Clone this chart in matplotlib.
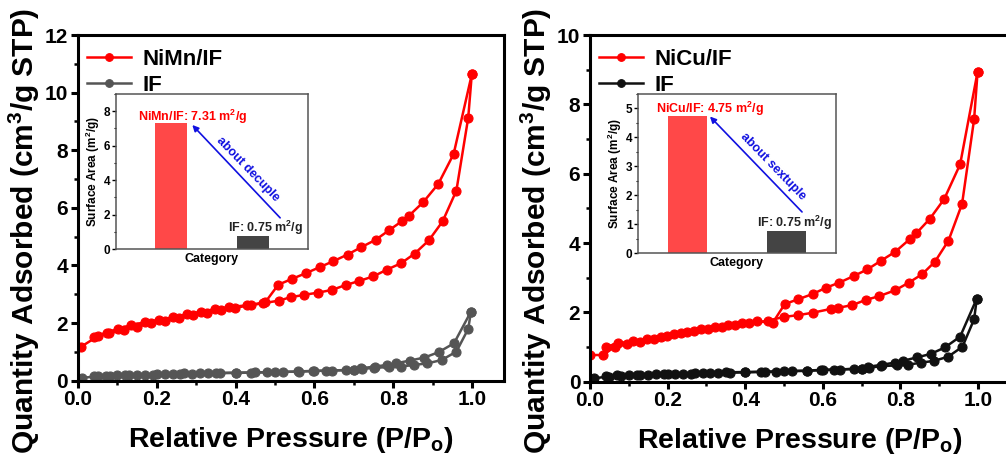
import numpy as np
import matplotlib
matplotlib.use("Agg")
import matplotlib.pyplot as plt
from matplotlib.ticker import MultipleLocator

plt.rcParams['font.family'] = ['Liberation Sans', 'DejaVu Sans']
plt.rcParams['font.weight'] = 'bold'
plt.rcParams['mathtext.fontset'] = 'custom'
plt.rcParams['mathtext.rm'] = 'Liberation Sans:bold'
plt.rcParams['mathtext.it'] = 'Liberation Sans:bold'
plt.rcParams['mathtext.bf'] = 'Liberation Sans:bold'

# ---- isotherm data ----
nimn_ads_x = [0.008, 0.051, 0.079, 0.117, 0.151, 0.186, 0.22, 0.256, 0.292, 0.327, 0.362, 0.398,
              0.438, 0.47, 0.51, 0.54, 0.574, 0.61, 0.644, 0.679, 0.713, 0.749, 0.783, 0.82,
              0.854, 0.89, 0.925, 0.96, 0.99, 0.999]
nimn_ads_y = [1.18, 1.55, 1.65, 1.76, 1.88, 2.00, 2.08, 2.16, 2.27, 2.34, 2.44, 2.53,
              2.62, 2.69, 2.78, 2.90, 2.98, 3.06, 3.15, 3.32, 3.46, 3.62, 3.85, 4.08,
              4.41, 4.87, 5.53, 6.60, 9.13, 10.63]
nimn_des_x = [0.999, 0.953, 0.914, 0.876, 0.84, 0.823, 0.789, 0.755, 0.718, 0.684, 0.648, 0.613,
              0.578, 0.542, 0.508, 0.475, 0.43, 0.382, 0.347, 0.311, 0.277, 0.241, 0.206, 0.170,
              0.135, 0.102, 0.073, 0.041]
nimn_des_y = [10.63, 7.87, 6.83, 6.20, 5.73, 5.55, 5.22, 4.89, 4.63, 4.38, 4.15, 3.94,
              3.73, 3.53, 3.33, 2.72, 2.62, 2.55, 2.48, 2.39, 2.31, 2.20, 2.11, 2.03,
              1.93, 1.80, 1.67, 1.53]

nicu_ads_x = [0.001, 0.034, 0.064, 0.095, 0.13, 0.164, 0.199, 0.234, 0.269, 0.305, 0.339, 0.373,
              0.41, 0.459, 0.50, 0.537, 0.574, 0.621, 0.639, 0.676, 0.711, 0.746, 0.787, 0.822,
              0.856, 0.889, 0.924, 0.959, 0.99, 0.999]
nicu_ads_y = [0.77, 0.77, 1.01, 1.08, 1.15, 1.24, 1.32, 1.41, 1.47, 1.51, 1.59, 1.64,
              1.68, 1.76, 1.87, 1.92, 1.99, 2.10, 2.13, 2.21, 2.36, 2.47, 2.64, 2.86,
              3.10, 3.46, 4.07, 5.13, 7.57, 8.94]
nicu_des_x = [0.999, 0.954, 0.913, 0.876, 0.841, 0.824, 0.787, 0.75, 0.715, 0.68, 0.643, 0.608,
              0.574, 0.537, 0.502, 0.471, 0.43, 0.391, 0.356, 0.321, 0.286, 0.251, 0.217, 0.182,
              0.147, 0.11, 0.073, 0.041]
nicu_des_y = [8.94, 6.27, 5.27, 4.70, 4.28, 4.11, 3.75, 3.49, 3.24, 3.05, 2.86, 2.71,
              2.53, 2.38, 2.24, 1.70, 1.74, 1.68, 1.64, 1.57, 1.51, 1.44, 1.37, 1.30,
              1.24, 1.17, 1.11, 1.01]

if_ads_x = [0.01, 0.05, 0.08, 0.12, 0.15, 0.19, 0.22, 0.26, 0.29, 0.33, 0.36, 0.40, 0.44, 0.48,
            0.52, 0.56, 0.60, 0.63, 0.68, 0.70, 0.72, 0.75, 0.79, 0.82, 0.853, 0.886, 0.923,
            0.96, 0.99, 0.997]
if_ads_y = [0.10, 0.15, 0.17, 0.19, 0.20, 0.21, 0.22, 0.23, 0.24, 0.25, 0.26, 0.27, 0.28, 0.29,
            0.31, 0.31, 0.34, 0.35, 0.37, 0.37, 0.40, 0.45, 0.47, 0.49, 0.55, 0.60, 0.72,
            1.01, 1.80, 2.40]
if_des_x = [0.997, 0.954, 0.915, 0.878, 0.842, 0.806, 0.785, 0.753, 0.717, 0.70, 0.645, 0.595,
            0.558, 0.50, 0.45, 0.40, 0.35, 0.31, 0.27, 0.24, 0.20, 0.17, 0.13, 0.10, 0.07, 0.04]
if_des_y = [2.40, 1.30, 0.99, 0.80, 0.70, 0.60, 0.55, 0.49, 0.43, 0.38, 0.35, 0.34,
            0.32, 0.30, 0.29, 0.28, 0.27, 0.26, 0.25, 0.23, 0.22, 0.21, 0.20, 0.19, 0.18, 0.16]

# ---- inset bar data ----
categories = ['NiMn/IF', 'IF']
area_nimn = [7.31, 0.75]
area_nicu = [4.75, 0.75]

RED = '#ff0000'
GRAY = '#555555'
BLACK = '#111111'

fig = plt.figure(figsize=(10.06, 4.59), dpi=100)
ax1 = fig.add_axes([0.0775, 0.1706, 0.4232, 0.7531])
ax2 = fig.add_axes([0.5865, 0.1684, 0.4165, 0.7553])


def draw_iso(ax, ads_x, ads_y, des_x, des_y, color, label):
    kw = dict(color=color, lw=1.8, marker='o', ms=6.5, mfc=color,
              mec=color, mew=0.8)
    ax.plot(des_x, des_y, **kw)
    ax.plot(ads_x, ads_y, label=label, **kw)


def style_main(ax, ymax):
    ax.set_xlim(0, 1.08)
    ax.set_ylim(0, ymax)
    ax.xaxis.set_major_locator(MultipleLocator(0.2))
    ax.xaxis.set_minor_locator(MultipleLocator(0.1))
    ax.yaxis.set_major_locator(MultipleLocator(2))
    ax.yaxis.set_minor_locator(MultipleLocator(1))
    for s in ax.spines.values():
        s.set_linewidth(2.2)
    ax.tick_params(which='major', direction='out', length=5, width=2.2,
                   labelsize=15, pad=2)
    ax.tick_params(which='minor', direction='out', length=3, width=1.8)
    ax.set_xticklabels([f'{v:.1f}' for v in ax.get_xticks()])
    ax.set_xlabel('Relative Pressure (P/P$_o$)', fontsize=20.5, fontweight='bold')
    ax.set_ylabel('Quantity Adsorbed (cm$^3$/g STP)', fontsize=21.5, fontweight='bold')
    ax.xaxis.set_label_coords(0.5, -0.128)
    ax.yaxis.set_label_coords(-0.085, 0.435)
    leg = ax.legend(loc='upper left', frameon=False, fontsize=16,
                    handlelength=2.0, handletextpad=0.5, labelspacing=0.2,
                    borderaxespad=0.0, bbox_to_anchor=(0.0, 0.985),
                    markerscale=0.85)
    return leg


draw_iso(ax1, nimn_ads_x, nimn_ads_y, nimn_des_x, nimn_des_y, RED, 'NiMn/IF')
draw_iso(ax1, if_ads_x, if_ads_y, if_des_x, if_des_y, GRAY, 'IF')
style_main(ax1, 12)

draw_iso(ax2, nicu_ads_x, nicu_ads_y, nicu_des_x, nicu_des_y, RED, 'NiCu/IF')
draw_iso(ax2, if_ads_x, if_ads_y, if_des_x, if_des_y, BLACK, 'IF')
style_main(ax2, 10)


def draw_inset(rect, values, ymax, major, minor, xlim, red_label, red_x, arrow_tail,
               arrow_head, text_pos, word):
    ins = fig.add_axes(rect)
    pos = np.arange(len(values))
    ins.bar(pos, values, width=0.4, color=['#ff4848', '#444444'])
    ins.set_xlim(*xlim)
    ins.set_ylim(0, ymax)
    ins.set_xticks([])
    ins.yaxis.set_major_locator(MultipleLocator(major))
    ins.yaxis.set_minor_locator(MultipleLocator(minor))
    ins.tick_params(which='major', direction='out', length=3, width=1,
                    labelsize=8.5, pad=1)
    ins.tick_params(which='minor', direction='out', length=1.5, width=0.8)
    for s in ins.spines.values():
        s.set_linewidth(1.1)
        s.set_color('#555555')
    ins.set_ylabel('Surface Area (m$^2$/g)', fontsize=8.5, fontweight='bold', labelpad=1)
    ins.set_xlabel('Category', fontsize=9, fontweight='bold', labelpad=3)
    ins.text(red_x, values[0] + 0.043 * ymax,
             f'{red_label}: {values[0]:.2f} m$^2$/g', color='red', fontsize=9,
             fontweight='bold', ha='center', va='center')
    ins.text(pos[1] - 0.3, values[1] + 0.05 * ymax,
             f'IF: {values[1]:.2f} m$^2$/g', color='#222222', fontsize=9,
             fontweight='bold', ha='left', va='center', clip_on=False)
    ins.annotate('', xy=arrow_head, xytext=arrow_tail,
                 arrowprops=dict(arrowstyle='-|>', color='#1010e0', lw=1.2,
                                 mutation_scale=9, shrinkA=0, shrinkB=0))
    ins.text(text_pos[0], text_pos[1], word, color='#1010e0', fontsize=9,
             fontweight='bold', rotation=-46, ha='center', va='center',
             rotation_mode='anchor')
    return ins


draw_inset([0.1153, 0.4575, 0.1909, 0.3377], area_nimn, 9, 2, 1, (-0.67, 1.67),
           'NiMn/IF', 0.26, (1.33, 1.81), (0.26, 7.2), (0.94, 4.62), 'about decuple')
draw_inset([0.6342, 0.4488, 0.1968, 0.3464], area_nicu, 5.5, 1, 0.5, (-0.5, 1.5),
           'NiCu/IF', 0.227, (1.157, 1.42), (0.227, 4.72), (0.864, 2.99), 'about sextuple')

fig.savefig('out.png', dpi=100)
